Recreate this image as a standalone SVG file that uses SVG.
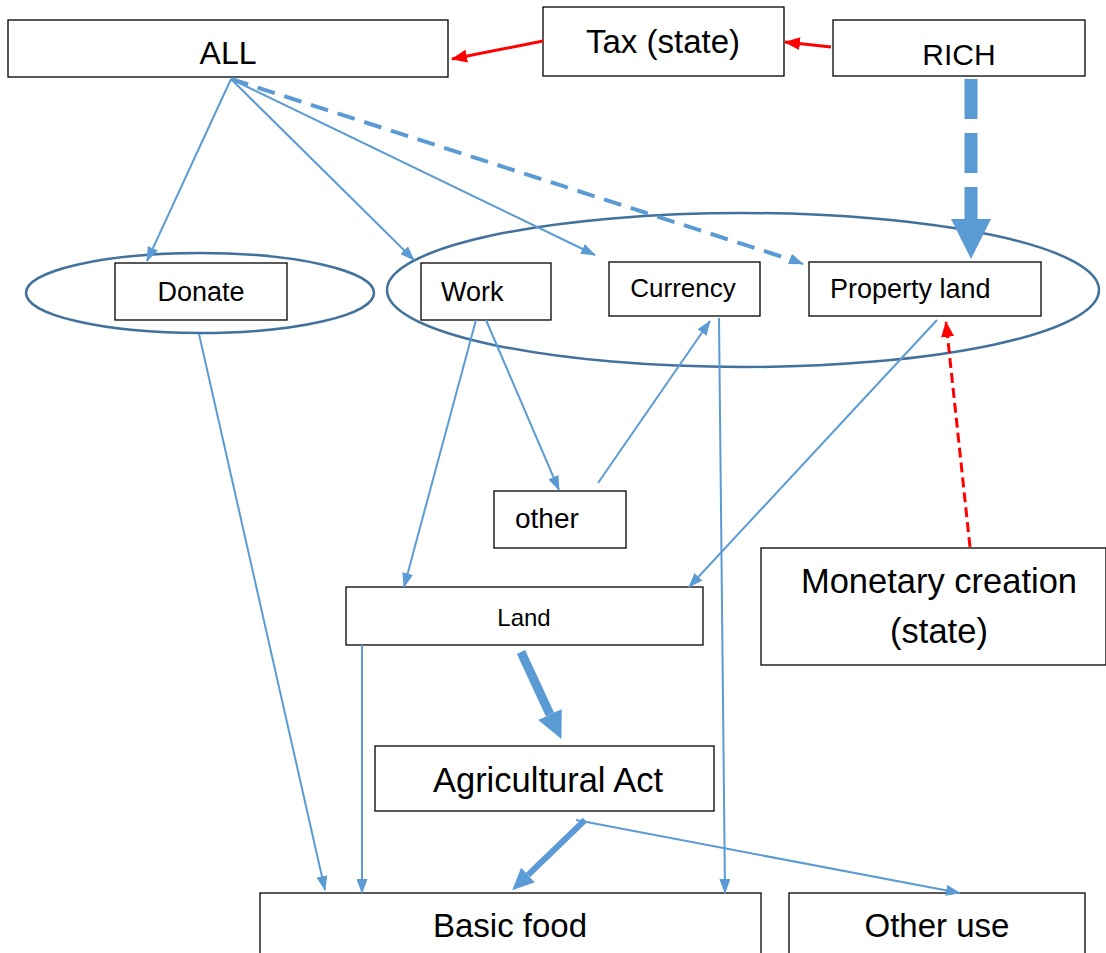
<svg xmlns="http://www.w3.org/2000/svg" width="1106" height="953" viewBox="0 0 1106 953">
<style>
.box{fill:#fff;stroke:#000;stroke-width:1.3}
.ell{fill:none;stroke:#41719C;stroke-width:2.5}
.t{font-family:"Liberation Sans",Arial,sans-serif;fill:#000}
.c{text-anchor:middle}
.bl{fill:none;stroke:#5B9BD5;stroke-width:2}
.rd{fill:none;stroke:#FF0000;stroke-width:3}
</style>
<defs>
<marker id="ab" markerUnits="userSpaceOnUse" markerWidth="15" markerHeight="11" refX="14" refY="5.5" orient="auto" viewBox="0 0 15 11"><path d="M0,0 L15,5.5 L0,11 z" fill="#5B9BD5"/></marker>
<marker id="ar" markerUnits="userSpaceOnUse" markerWidth="16" markerHeight="13" refX="15" refY="6.5" orient="auto" viewBox="0 0 16 13"><path d="M0,0 L16,6.5 L0,13 z" fill="#FF0000"/></marker>
<marker id="big" markerUnits="userSpaceOnUse" markerWidth="40" markerHeight="40" refX="0" refY="20" orient="auto" viewBox="0 0 40 40"><path d="M0,0 L40,20 L0,40 z" fill="#5B9BD5"/></marker>
<marker id="med" markerUnits="userSpaceOnUse" markerWidth="27" markerHeight="26" refX="0" refY="13" orient="auto" viewBox="0 0 27 26"><path d="M0,0 L27,13 L0,26 z" fill="#5B9BD5"/></marker>
<marker id="sm" markerUnits="userSpaceOnUse" markerWidth="22" markerHeight="20" refX="0" refY="10" orient="auto" viewBox="0 0 22 20"><path d="M0,0 L22,10 L0,20 z" fill="#5B9BD5"/></marker>
</defs>

<g id="ellipses">
<ellipse class="ell" cx="200" cy="293" rx="174" ry="40"/>
<ellipse class="ell" cx="743" cy="290" rx="356" ry="77"/>
</g>

<g id="node-all"><rect class="box" x="8" y="20" width="440" height="57"/><text class="t c" x="228" y="64" font-size="32">ALL</text></g>
<g id="node-tax"><rect class="box" x="543" y="7" width="241" height="69"/><text class="t c" x="663" y="53" font-size="33">Tax (state)</text></g>
<g id="node-rich"><rect class="box" x="833" y="20" width="252" height="56"/><text class="t c" x="959" y="65" font-size="30">RICH</text></g>
<g id="node-donate"><rect class="box" x="115" y="263" width="172" height="57"/><text class="t c" x="201" y="301" font-size="27">Donate</text></g>
<g id="node-work"><rect class="box" x="421" y="263" width="130" height="57"/><text class="t" x="441" y="301" font-size="27">Work</text></g>
<g id="node-currency"><rect class="box" x="609" y="262" width="151" height="54"/><text class="t c" x="683" y="297" font-size="26">Currency</text></g>
<g id="node-property"><rect class="box" x="809" y="262" width="232" height="54"/><text class="t" x="830" y="298" font-size="27">Property land</text></g>
<g id="node-other"><rect class="box" x="494" y="491" width="132" height="57"/><text class="t" x="515" y="528" font-size="28">other</text></g>
<g id="node-land"><rect class="box" x="346" y="587" width="357" height="58"/><text class="t c" x="524" y="626" font-size="24">Land</text></g>
<g id="node-monetary"><rect class="box" x="761" y="548" width="345" height="117"/><text class="t c" x="939" y="593" font-size="34.5">Monetary creation</text><text class="t c" x="939" y="643" font-size="34.5">(state)</text></g>
<g id="node-agri"><rect class="box" x="375" y="746" width="339" height="65"/><text class="t c" x="548" y="792" font-size="34.5">Agricultural Act</text></g>
<g id="node-basic"><rect class="box" x="260" y="893" width="501" height="70"/><text class="t c" x="510" y="937" font-size="33">Basic food</text></g>
<g id="node-otheruse"><rect class="box" x="789" y="893" width="296" height="70"/><text class="t c" x="937" y="937" font-size="33">Other use</text></g>

<g id="connectors">
<line class="rd" x1="543" y1="41" x2="452" y2="59" marker-end="url(#ar)"/>
<line class="rd" x1="831" y1="47" x2="785" y2="42" marker-end="url(#ar)"/>
<line x1="971" y1="79" x2="971" y2="219" stroke="#5B9BD5" stroke-width="13" stroke-dasharray="40 14" marker-end="url(#big)"/>
<line class="bl" x1="231" y1="79" x2="147" y2="261" marker-end="url(#ab)"/>
<line class="bl" x1="231" y1="79" x2="414" y2="260" marker-end="url(#ab)"/>
<line class="bl" x1="231" y1="79" x2="595" y2="255" marker-end="url(#ab)"/>
<line x1="231" y1="79" x2="792" y2="260" stroke="#5B9BD5" stroke-width="4" stroke-dasharray="18 10"/>
<line class="bl" x1="790" y1="259" x2="803" y2="264" marker-end="url(#ab)"/>
<line class="bl" x1="199" y1="334" x2="325" y2="890" marker-end="url(#ab)"/>
<line class="bl" x1="476" y1="320" x2="404" y2="587" marker-end="url(#ab)"/>
<line class="bl" x1="486" y1="320" x2="559" y2="490" marker-end="url(#ab)"/>
<line class="bl" x1="598" y1="483" x2="710" y2="321" marker-end="url(#ab)"/>
<line class="bl" x1="719" y1="318" x2="725" y2="893" marker-end="url(#ab)"/>
<line class="bl" x1="937" y1="320" x2="689" y2="587" marker-end="url(#ab)"/>
<line x1="970" y1="547" x2="946" y2="322" stroke="#FF0000" stroke-width="3" stroke-dasharray="10 5" marker-end="url(#ar)"/>
<line class="bl" x1="362" y1="645" x2="362" y2="893" marker-end="url(#ab)"/>
<line x1="521" y1="652" x2="550" y2="714.5" stroke="#5B9BD5" stroke-width="9" marker-end="url(#med)"/>
<line x1="585" y1="820" x2="528" y2="875" stroke="#5B9BD5" stroke-width="6" marker-end="url(#sm)"/>
<line class="bl" x1="576" y1="820" x2="960" y2="893" marker-end="url(#ab)"/>
</g>
</svg>
